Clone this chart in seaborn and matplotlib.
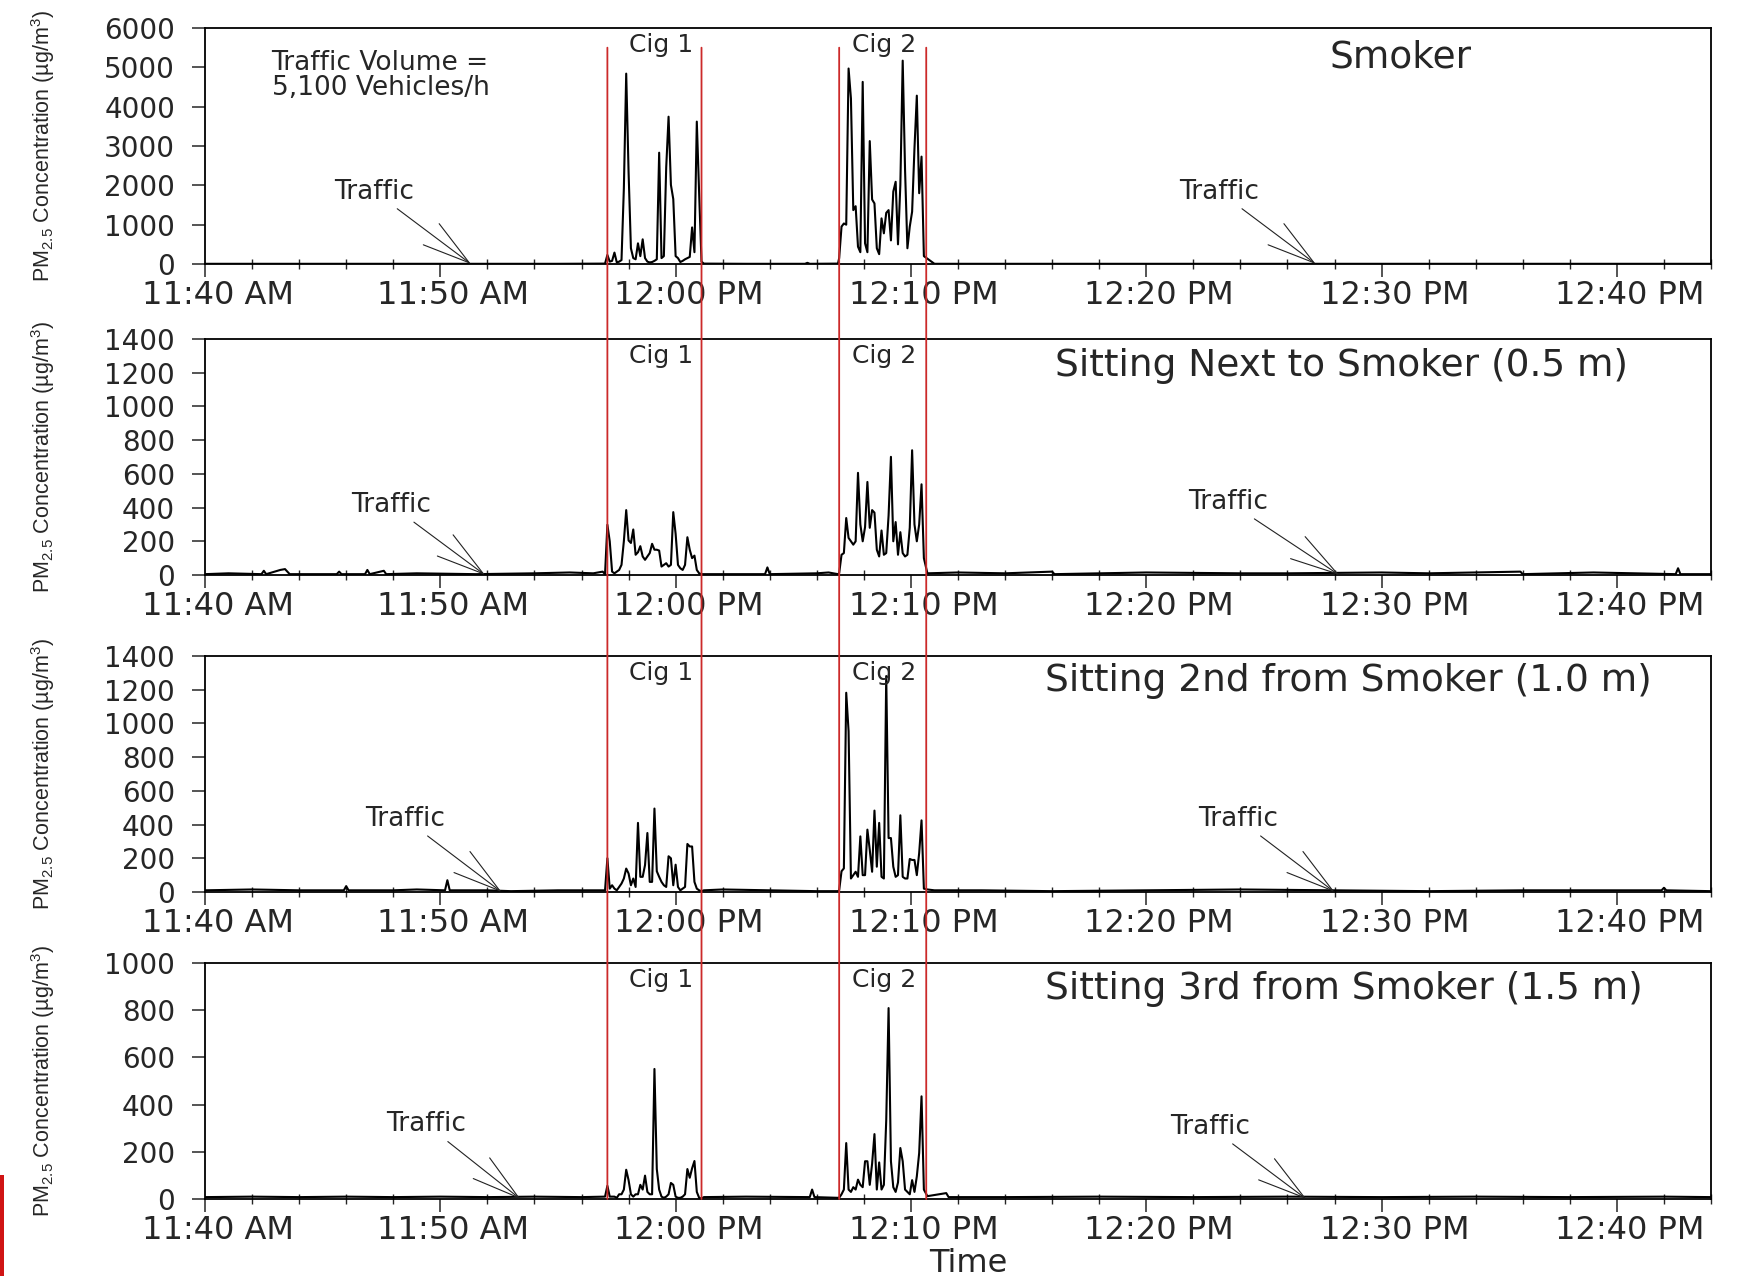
import matplotlib.pyplot as plt
import numpy as np
import pandas as pd
import seaborn as sns
from matplotlib.patches import ConnectionPatch, Rectangle
from matplotlib.transforms import ScaledTranslation

# time axis: minutes after 11:40 AM
TICK_MINUTES = [0, 10, 20, 30, 40, 50, 60]
TICK_LABELS = ["11:40 AM", "11:50 AM", "12:00 PM", "12:10 PM",
               "12:20 PM", "12:30 PM", "12:40 PM"]
X_MAX = 64

# cigarette periods (start, end) in minutes after 11:40
CIG_1 = (17.1, 21.1)
CIG_2 = (26.95, 30.65)
SAMPLE_STEP = 0.1  # minutes between readings during the cigarettes

# --- Smoker -------------------------------------------------------------
smoker_bg_t = [0, 5, 10, 15, 17.0, 21.2, 23, 25.5, 25.6, 25.7, 26.9,
               31, 35, 40, 45, 50, 55, 60, 64]
smoker_bg_v = [5, 5, 5, 5, 10, 10, 5, 5, 30, 5, 10,
               5, 5, 5, 5, 5, 5, 5, 5]
smoker_cig1 = [230, 60, 80, 290, 40, 60, 100, 1920, 4840, 2350,
               400, 150, 120, 525, 200, 627, 150, 60, 40, 50,
               80, 120, 2830, 150, 200, 2460, 3745, 2010, 1650, 200,
               150, 50, 80, 120, 150, 180, 930, 300, 3620, 1780,
               60]
smoker_cig2 = [150, 950, 1030, 1000, 4970, 4210, 1370, 1470, 440, 300,
               4630, 525, 300, 3125, 1640, 1540, 400, 250, 1160, 780,
               1300, 1370, 600, 1840, 2090, 500, 2010, 5170, 2390, 400,
               950, 1330, 2940, 4280, 1800, 2730, 200]

# --- Sitting next to smoker (0.5 m) ---------------------------------------
next_bg_t = [0, 1.0, 2.4, 2.5, 2.6, 3.2, 3.4, 3.6, 5.6, 5.7, 5.8, 6.8, 6.9,
             7.0, 7.6, 7.7, 9, 11.5, 14, 15.5, 16.5, 16.9, 17.0,
             21.2, 23.8, 23.9, 24.0, 26, 26.5, 26.9,
             30.7, 32, 34, 36.0, 36.1, 40, 44, 46, 50, 52, 55.9, 56, 59,
             62.5, 62.6, 62.7, 64]
next_bg_v = [5, 10, 5, 25, 5, 30, 35, 5, 5, 20, 5, 5, 30,
             5, 25, 5, 10, 5, 10, 15, 10, 20, 5,
             5, 5, 45, 5, 10, 15, 5,
             10, 15, 10, 20, 5, 15, 10, 10, 15, 10, 20, 5, 15,
             5, 40, 5, 5]
next_cig1 = [298, 200, 20, 10, 20, 30, 60, 200, 385, 205,
             190, 270, 120, 135, 171, 110, 90, 110, 130, 185,
             150, 150, 145, 50, 60, 70, 50, 60, 373, 244,
             60, 40, 30, 60, 224, 150, 100, 115, 30, 10,
             5]
next_cig2 = [10, 120, 130, 338, 220, 200, 180, 200, 606, 300,
             200, 284, 552, 280, 385, 370, 150, 110, 264, 120,
             130, 353, 701, 200, 314, 120, 254, 130, 110, 120,
             280, 740, 300, 200, 300, 538, 100]

# --- Sitting 2nd from smoker (1.0 m) --------------------------------------
second_bg_t = [0, 2, 4, 5.9, 6.0, 6.1, 8, 9, 10.2, 10.3, 10.4, 12, 13, 15,
               17.0, 21.2, 22, 24, 26, 26.9,
               30.7, 31, 33, 36, 40, 44, 48, 52, 56, 60, 61.9, 62.0, 62.1,
               64]
second_bg_v = [10, 15, 10, 10, 35, 10, 10, 15, 10, 70, 10, 10, 5, 10,
               10, 10, 15, 10, 5, 5,
               15, 10, 10, 5, 10, 15, 10, 5, 10, 10, 10, 25, 10,
               5]
second_cig1 = [200, 20, 40, 20, 10, 30, 50, 80, 139, 110,
               40, 80, 30, 410, 90, 90, 160, 350, 60, 60,
               495, 123, 90, 60, 40, 30, 212, 200, 40, 162,
               30, 10, 20, 30, 285, 270, 270, 60, 20, 10,
               5]
second_cig2 = [10, 123, 140, 1182, 954, 80, 100, 120, 90, 330,
               100, 100, 370, 250, 120, 483, 150, 410, 90, 80,
               1281, 320, 320, 150, 90, 100, 455, 90, 80, 80,
               196, 190, 190, 100, 231, 425, 20]

# --- Sitting 3rd from smoker (1.5 m) --------------------------------------
third_bg_t = [0, 2, 4, 6, 8, 10, 12, 14, 16, 17.0,
              21.2, 23, 25.7, 25.8, 25.9, 26.9,
              30.7, 31.5, 31.6, 34, 38, 42, 46, 50, 54, 58, 62, 64]
third_bg_v = [8, 10, 8, 10, 8, 10, 8, 10, 8, 10,
              8, 10, 8, 40, 8, 5,
              12, 25, 8, 8, 10, 8, 10, 8, 10, 8, 10, 8]
third_cig1 = [56, 10, 10, 10, 5, 20, 20, 40, 124, 80,
              20, 10, 20, 20, 60, 40, 99, 30, 20, 20,
              551, 127, 40, 10, 5, 10, 20, 68, 60, 10,
              5, 5, 10, 20, 127, 90, 130, 161, 30, 5,
              2]
third_cig2 = [5, 20, 40, 237, 40, 30, 50, 40, 82, 60,
              50, 160, 160, 60, 150, 275, 40, 155, 40, 60,
              333, 809, 160, 50, 30, 70, 216, 160, 40, 30,
              20, 80, 30, 96, 195, 435, 40]

PANEL_TITLES = ["Smoker", "Sitting Next to Smoker (0.5 m)",
                "Sitting 2nd from Smoker (1.0 m)",
                "Sitting 3rd from Smoker (1.5 m)"]
PANEL_YMAX = [6000, 1400, 1400, 1000]
PANEL_YSTEP = [1000, 200, 200, 200]


def panel_frame(bg_t, bg_v, cig1_v, cig2_v) -> pd.DataFrame:
    t1 = CIG_1[0] + SAMPLE_STEP * np.arange(len(cig1_v))
    t2 = CIG_2[0] + SAMPLE_STEP * np.arange(len(cig2_v))
    df = pd.DataFrame({
        "minute": np.concatenate([bg_t, t1, t2]),
        "pm25": np.concatenate([bg_v, cig1_v, cig2_v]).astype(float),
    })
    return df.sort_values("minute").reset_index(drop=True)


def main() -> None:
    frames = [
        panel_frame(smoker_bg_t, smoker_bg_v, smoker_cig1, smoker_cig2),
        panel_frame(next_bg_t, next_bg_v, next_cig1, next_cig2),
        panel_frame(second_bg_t, second_bg_v, second_cig1, second_cig2),
        panel_frame(third_bg_t, third_bg_v, third_cig1, third_cig2),
    ]

    sns.set_style("ticks")
    plt.rcParams["font.family"] = ["DejaVu Sans"]
    plt.rcParams["mathtext.fontset"] = "custom"
    plt.rcParams["mathtext.rm"] = "Liberation Sans"
    plt.rcParams["mathtext.it"] = "Liberation Sans:italic"

    W, H = 1737, 1276
    fig = plt.figure(figsize=(W / 100, H / 100), dpi=100)

    # layout in pixels
    LEFT, RIGHT = 205, 1711
    PANEL_H = 236
    TOPS = [28, 339, 656, 963]
    # traffic arrows: (text minute, text y, tip minute) for both arrows
    TRAFFIC = [
        [(7.2, 1840, 11.3), (43.1, 1840, 47.2)],
        [(7.9, 415, 11.9), (43.5, 434, 48.2)],
        [(8.5, 434, 12.6), (43.9, 434, 48.0)],
        [(9.4, 316, 13.4), (42.7, 306, 46.8)],
    ]
    TITLE_POS = [(50.8, 0.875), (48.3, 0.887), (48.6, 0.892), (48.4, 0.888)]

    axes = []
    label_shift = ScaledTranslation(0.13, 0, fig.dpi_scale_trans)
    for i, df in enumerate(frames):
        rect = [LEFT / W, 1 - (TOPS[i] + PANEL_H) / H,
                (RIGHT - LEFT) / W, PANEL_H / H]
        ax = fig.add_axes(rect)
        axes.append(ax)
        sns.lineplot(data=df, x="minute", y="pm25", ax=ax, color="black",
                     lw=1.5, estimator=None, sort=True, legend=False)

        ax.set_xlim(0, X_MAX)
        ax.set_ylim(0, PANEL_YMAX[i])
        ax.set_yticks(np.arange(0, PANEL_YMAX[i] + 1, PANEL_YSTEP[i]))
        ax.set_xticks(TICK_MINUTES)
        ax.set_xticklabels(TICK_LABELS)
        ax.set_xticks(np.arange(0, X_MAX + 1, 2), minor=True)
        ax.tick_params(axis="x", which="major", direction="out", length=9.5,
                       width=1.1, pad=2, labelsize=23)
        ax.tick_params(axis="x", which="minor", direction="inout", length=7,
                       width=1.0)
        ax.tick_params(axis="y", which="major", direction="out", length=9.5,
                       width=1.1, pad=12, labelsize=20)
        for lab in ax.get_xticklabels():
            lab.set_transform(lab.get_transform() + label_shift)
        for sp in ax.spines.values():
            sp.set_linewidth(1.3)
            sp.set_color("black")

        ax.set_xlabel("")
        ax.set_ylabel("PM$_{2.5}$ Concentration (µg/m$^3$)", fontsize=15.5,
                      family=["Liberation Sans", "DejaVu Sans"])
        ax.yaxis.set_label_coords(-0.098, 0.5)

        trans = ax.get_xaxis_transform()
        ax.text(TITLE_POS[i][0], TITLE_POS[i][1], PANEL_TITLES[i],
                transform=trans, ha="center", va="center", fontsize=27)
        ax.text(19.4, 0.93, "Cig 1", transform=trans, ha="center",
                va="center", fontsize=18)
        ax.text(28.85, 0.93, "Cig 2", transform=trans, ha="center",
                va="center", fontsize=18)

        for text_t, text_y, tip_t in TRAFFIC[i]:
            ax.annotate(
                "Traffic", xy=(tip_t, 0), xytext=(text_t, text_y),
                ha="center", va="center", fontsize=19,
                arrowprops=dict(arrowstyle="->,head_length=1.8,head_width=0.5",
                                color="#222222", lw=0.8, shrinkA=1, shrinkB=0),
            )

    axes[0].text(2.83, 0.8, "Traffic Volume =\n5,100 Vehicles/h",
                 transform=axes[0].get_xaxis_transform(), ha="left",
                 va="center", fontsize=19, linespacing=0.95)

    # red markers of the cigarette periods, spanning all panels
    for x in [*CIG_1, *CIG_2]:
        con = ConnectionPatch(xyA=(x, 5500), coordsA=axes[0].transData,
                              xyB=(x, 0), coordsB=axes[-1].transData,
                              color="#cc2a2a", lw=1.3, zorder=5)
        fig.add_artist(con)

    fig.text(968 / W, 1 - 1263 / H, "Time", ha="center", va="center",
             fontsize=23)

    # red strip at the lower-left edge of the slide
    fig.add_artist(Rectangle((0, 0), 4 / W, 101 / H, transform=fig.transFigure,
                             color="#d01414", lw=0))

    fig.savefig("out.png", dpi=100)


if __name__ == "__main__":
    main()
